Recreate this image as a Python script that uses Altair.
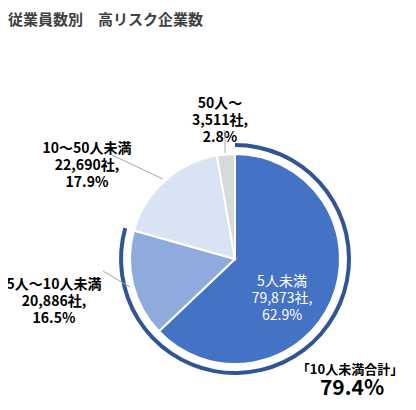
import altair as alt
import pandas as pd

# slices, clockwise from 12 o'clock
categories = ["5人未満", "5人～10人未満", "10～50人未満", "50人～"]
counts = [79873, 20886, 22690, 3511]
shares = [62.9, 16.5, 17.9, 2.8]
colors = ["#4472C4", "#8FAADC", "#DAE3F3", "#D9D9D9"]

# outer ring: companies under 10 employees vs the rest
ring_groups = ["10人未満合計", "その他"]
ring_counts = [counts[0] + counts[1], counts[2] + counts[3]]
ring_share = 79.4

FONT = "Noto Sans CJK JP"
CX, CY = 227, 251

pie_df = pd.DataFrame({
    "idx": range(len(categories)),
    "category": categories,
    "count": counts,
})
ring_df = pd.DataFrame({
    "idx": range(len(ring_groups)),
    "group": ring_groups,
    "count": ring_counts,
})

pie = alt.Chart(pie_df).mark_arc(
    radius=105, stroke="white", strokeWidth=2
).encode(
    theta=alt.Theta("count:Q", stack=True),
    color=alt.Color(
        "category:N",
        scale=alt.Scale(domain=categories, range=colors),
        sort=None,
        legend=None,
    ),
    order=alt.Order("idx:Q"),
    x=alt.value(CX),
    y=alt.value(CY),
)

ring = alt.Chart(ring_df).mark_arc(radius=116, radius2=112).encode(
    theta=alt.Theta("count:Q", stack=True),
    color=alt.condition(
        alt.datum.group == ring_groups[0],
        alt.value("#2F5597"),
        alt.value("transparent"),
    ),
    order=alt.Order("idx:Q"),
    x=alt.value(CX),
    y=alt.value(CY),
)


def label(lines, x, y, color="black", bold=True, size=14):
    return alt.Chart(pd.DataFrame({"t": ["\n".join(lines)]})).mark_text(
        font=FONT,
        fontSize=size,
        fontWeight="bold" if bold else "normal",
        color=color,
        align="center",
        baseline="middle",
        lineBreak="\n",
        lineHeight=17,
    ).encode(text="t:N", x=alt.value(x), y=alt.value(y))


def leader(x1, y1, x2, y2):
    return alt.Chart(pd.DataFrame({"a": [0]})).mark_rule(
        color="#A6A6A6", strokeWidth=1
    ).encode(
        x=alt.value(x1), y=alt.value(y1), x2=alt.value(x2), y2=alt.value(y2)
    )


def slice_lines(i):
    return [categories[i], f"{counts[i]:,}社,", f"{shares[i]}%"]


title = alt.Chart(pd.DataFrame({"t": ["従業員数別　高リスク企業数"]})).mark_text(
    font=FONT, fontSize=15, fontWeight="bold", color="#404040",
    align="left", baseline="alphabetic",
).encode(text="t:N", x=alt.value(0), y=alt.value(17))

layers = [
    ring,
    pie,
    title,
    label(slice_lines(0), 274, 274, color="white", bold=False),
    label(slice_lines(1), 46, 277),
    label(slice_lines(2), 79, 141),
    label(slice_lines(3), 212, 96),
    leader(95, 263, 122, 279),
    leader(104, 147, 155, 171),
    leader(217, 122, 217, 145),
    label([f"「{ring_groups[0]}」"], 342, 362, size=13),
    label([f"{ring_share}%"], 344, 381, size=21),
]

chart = alt.layer(*layers).resolve_scale(theta="independent").properties(
    width=400,
    height=394,
    padding=0,
    autosize=alt.AutoSizeParams(type="none"),
).configure_view(stroke=None)

chart.save("out.html", embed_options={"renderer": "svg", "actions": False})
